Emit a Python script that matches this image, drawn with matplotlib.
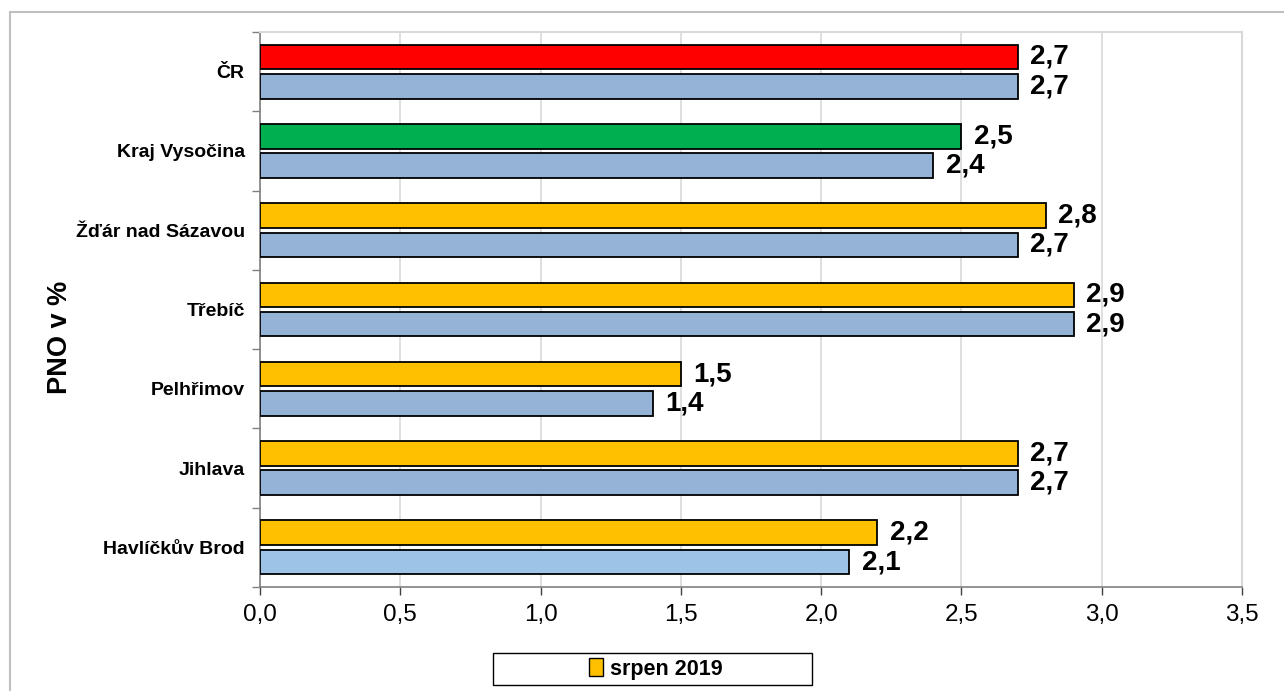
import numpy as np
import matplotlib
matplotlib.use('Agg')
import matplotlib.pyplot as plt
from matplotlib.patches import Rectangle, Patch
from matplotlib.ticker import FixedLocator

plt.rcParams['font.family'] = ['Liberation Sans', 'DejaVu Sans']

# data (odshora dolu)
kategorie = ['ČR', 'Kraj Vysočina', 'Žďár nad Sázavou', 'Třebíč',
             'Pelhřimov', 'Jihlava', 'Havlíčkův Brod']
srpen_2019 = [2.7, 2.5, 2.8, 2.9, 1.5, 2.7, 2.2]
predchozi = [2.7, 2.4, 2.7, 2.9, 1.4, 2.7, 2.1]
barvy_2019 = ['#FF0000', '#00B050', '#FFC000', '#FFC000',
              '#FFC000', '#FFC000', '#FFC000']
barvy_pred = ['#95B3D7', '#95B3D7', '#95B3D7', '#95B3D7',
              '#95B3D7', '#95B3D7', '#9DC3E6']
xticky = [0.0, 0.5, 1.0, 1.5, 2.0, 2.5, 3.0, 3.5]

n = len(kategorie)
y = np.arange(n)[::-1]  # CR nahore
vyska = 0.31
posun = 0.185

fig = plt.figure(figsize=(12.84, 6.91), dpi=100)
ax = fig.add_axes([260/1284, 1-587/691, (1242-260)/1284, (587-32)/691])

ax.barh(y + posun, srpen_2019, height=vyska, color=barvy_2019,
        edgecolor='black', linewidth=1.3, zorder=3)
ax.barh(y - posun, predchozi, height=vyska, color=barvy_pred,
        edgecolor='black', linewidth=1.3, zorder=3)

for yi, v in zip(y, srpen_2019):
    ax.annotate(f'{v:.1f}'.replace('.', ','), (v, yi + posun), xytext=(9, 0),
                textcoords='offset points', va='center', ha='left',
                fontsize=20, fontweight='bold')
for yi, v in zip(y, predchozi):
    ax.annotate(f'{v:.1f}'.replace('.', ','), (v, yi - posun), xytext=(9, 0),
                textcoords='offset points', va='center', ha='left',
                fontsize=20, fontweight='bold')

ax.set_xlim(0, 3.5)
ax.set_ylim(-0.5, n - 0.5)
ax.set_xticks(xticky)
ax.set_xticklabels([f'{t:.1f}'.replace('.', ',') for t in xticky], fontsize=17.5)
ax.set_yticks(y)
ax.set_yticklabels(kategorie, fontsize=14, fontweight='bold')
ax.yaxis.set_minor_locator(FixedLocator(np.arange(-0.5, n, 1.0)))
ax.tick_params(axis='y', which='major', length=0, pad=11)
ax.tick_params(axis='y', which='minor', length=6, color='#808080', width=1)
ax.tick_params(axis='x', which='major', length=6, color='#404040', width=1, pad=6)

ax.grid(axis='x', color='#D9D9D9', linewidth=1.2, zorder=0)
ax.set_axisbelow(True)
for s in ['top', 'right']:
    ax.spines[s].set_color('#D9D9D9')
    ax.spines[s].set_linewidth(1.5)
ax.spines['left'].set_color('#808080')
ax.spines['bottom'].set_color('#808080')
ax.spines['left'].set_linewidth(1.2)
ax.spines['bottom'].set_linewidth(1.2)

ax.set_ylabel('PNO v %', fontsize=19.5, fontweight='bold')
ax.yaxis.set_label_coords(-0.19, 0.45)

# vnejsi ramecek grafu
fig.patches.append(Rectangle((10/1284, -0.1), 1.2, 1-12/691+0.1,
                             transform=fig.transFigure, fill=False,
                             edgecolor='#BFBFBF', linewidth=1.5))

# legenda
fig.patches.append(Rectangle((493/1284, 1-685/691), (812-493)/1284, 32/691,
                             transform=fig.transFigure, facecolor='white',
                             edgecolor='black', linewidth=1.0))
fig.legend(handles=[Patch(facecolor='#FFC000', edgecolor='black', label='srpen 2019')],
           loc='center', bbox_to_anchor=(656/1284, 1-669/691), frameon=False,
           prop={'size': 15.5, 'weight': 'bold'}, handlelength=0.65,
           handleheight=0.85, handletextpad=0.3)

fig.savefig('out.png', dpi=100)
